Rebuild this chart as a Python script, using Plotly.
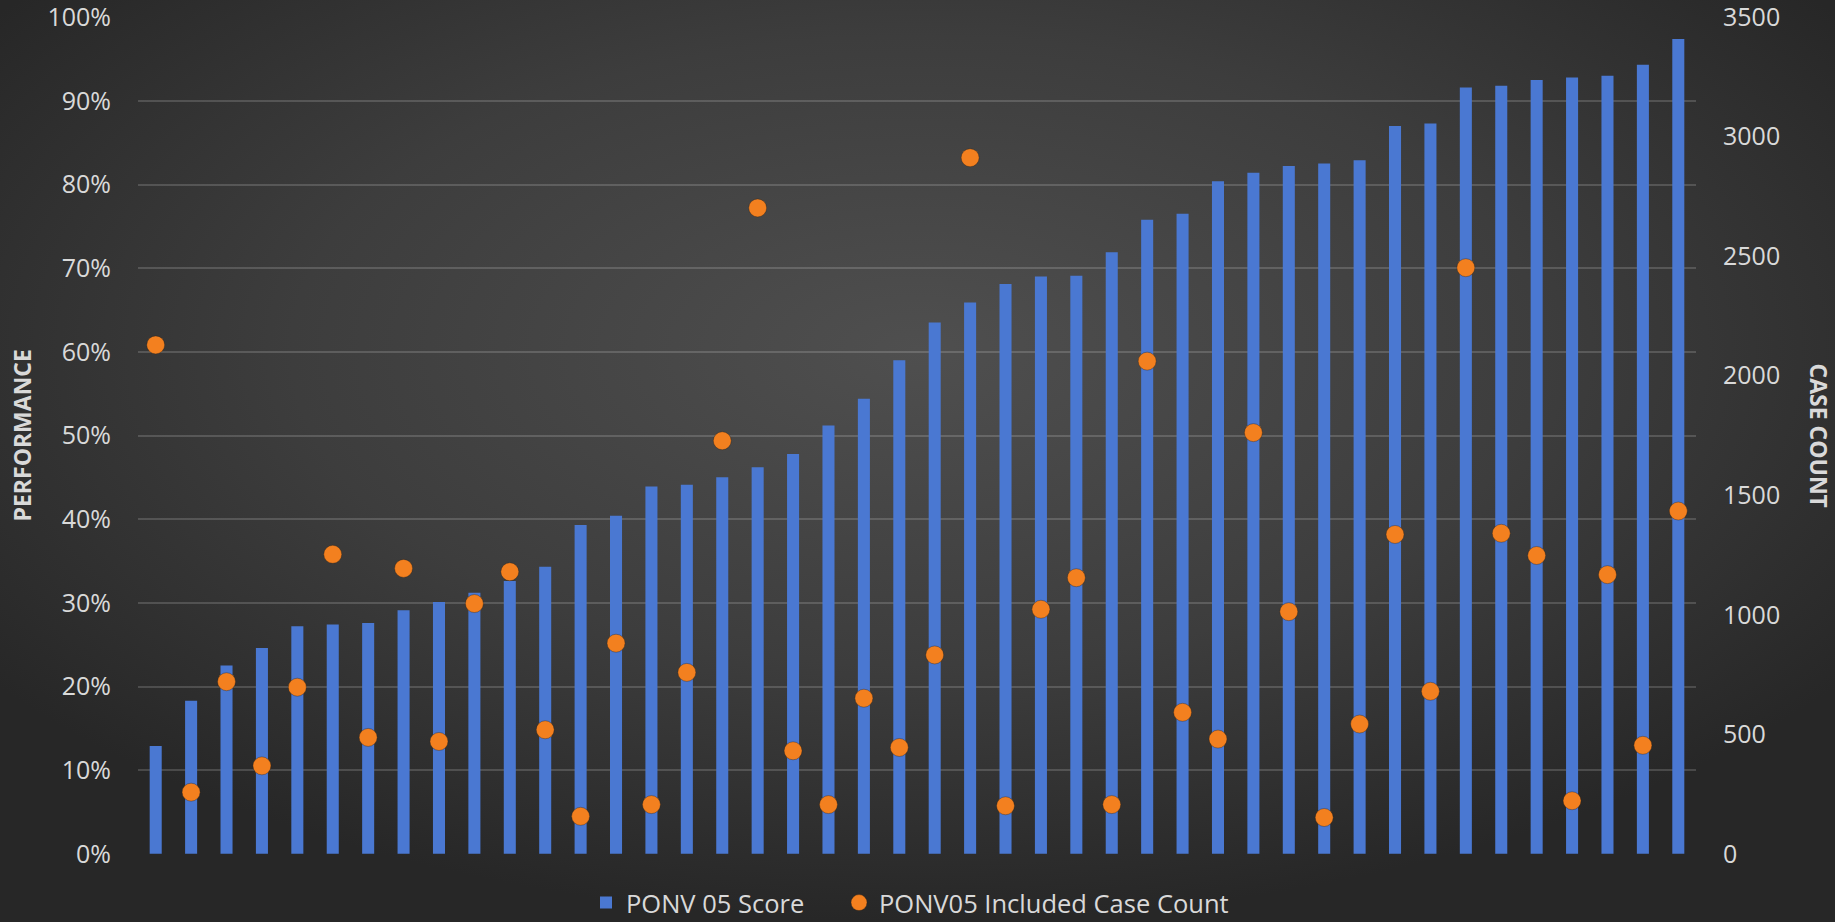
import plotly.graph_objects as go
import base64

units = [f"U{i}" for i in range(1, 45)]
ponv_score = [12.9, 18.3, 22.5, 24.6, 27.2, 27.4, 27.6, 29.1, 30.1, 31.2,
              32.6, 34.3, 39.3, 40.4, 43.9, 44.1, 45.0, 46.2, 47.8, 51.2,
              54.4, 59.0, 63.5, 65.9, 68.1, 69.0, 69.1, 71.9, 75.8, 76.5,
              80.4, 81.4, 82.2, 82.5, 82.9, 87.0, 87.3, 91.6, 91.8, 92.5,
              92.8, 93.0, 94.3, 97.4]
case_count = [2129, 258, 720, 368, 697, 1253, 487, 1194, 470, 1047,
              1180, 519, 157, 881, 206, 759, 1728, 2702, 431, 206,
              651, 445, 832, 2912, 201, 1023, 1155, 206, 2061, 592,
              480, 1762, 1013, 152, 543, 1336, 680, 2452, 1341, 1248,
              222, 1168, 454, 1434]
left_ticks = [0, 10, 20, 30, 40, 50, 60, 70, 80, 90, 100]
left_labels = [f"{v}%" for v in left_ticks]
right_ticks = [0, 500, 1000, 1500, 2000, 2500, 3000, 3500]

W, H = 1835, 922
ml, mr, mt, mb = 138, 139, 17, 68
pw, ph = W - ml - mr, H - mt - mb

svg = f'''<svg xmlns="http://www.w3.org/2000/svg" width="{W}" height="{H}" viewBox="0 0 {W} {H}" preserveAspectRatio="none">
<defs><radialGradient id="g" cx="0.5" cy="0.38" r="0.62" gradientUnits="objectBoundingBox">
<stop offset="0" stop-color="#4f4f4f"/><stop offset="0.55" stop-color="#3d3d3d"/><stop offset="1" stop-color="#272727"/>
</radialGradient></defs><rect width="{W}" height="{H}" fill="url(#g)"/></svg>'''
bg_src = "data:image/svg+xml;base64," + base64.b64encode(svg.encode()).decode()

txt = "#d9d9d9"
font = "Open Sans"
eps = 0.02
leg_y = (H - 903) / H

fig = go.Figure()
fig.add_trace(go.Bar(
    x=units, y=ponv_score, name="PONV 05 Score", legend="legend",
    marker=dict(color="#4a78d2", line=dict(width=0)),
))
fig.add_trace(go.Scatter(
    x=units, y=case_count, name="PONV05 Included Case Count", yaxis="y2",
    mode="markers", legend="legend2",
    marker=dict(color="#f3801f", size=18, line=dict(color="rgba(40,30,20,0.35)", width=1)),
))

leg_common = dict(orientation="h", xanchor="left", xref="container",
                  yref="container", y=leg_y, yanchor="middle",
                  font=dict(size=25.5, color=txt), bgcolor="rgba(0,0,0,0)",
                  itemwidth=30)

fig.update_layout(
    width=W, height=H,
    margin=dict(l=ml, r=mr, t=mt, b=mb, autoexpand=False),
    paper_bgcolor="#303030", plot_bgcolor="rgba(0,0,0,0)",
    bargap=0.66,
    font=dict(family=font, color=txt, size=25),
    showlegend=True,
    legend=dict(x=(629 - 43) / W, **leg_common),
    legend2=dict(x=(882 - 43) / W, **leg_common),
    xaxis=dict(showticklabels=False, showgrid=False, zeroline=False, ticks="",
               showline=False, range=[-0.5, 43.5]),
    yaxis=dict(range=[0 - eps, 100 + eps], tickvals=left_ticks, ticktext=left_labels,
               showgrid=True, gridcolor="rgba(255,255,255,0.16)", gridwidth=1.5,
               zeroline=False, showline=False, ticks="", ticklabelstandoff=26,
               automargin=False,
               ticklabeloverflow="allow", tickfont=dict(size=25, color=txt)),
    yaxis2=dict(range=[0 - eps * 35, 3500 + eps * 35], tickvals=right_ticks,
                overlaying="y", side="right",
                showgrid=False, zeroline=False, showline=False, ticks="",
                ticklabelstandoff=26, ticklabeloverflow="allow", automargin=False,
                tickfont=dict(size=25, color=txt)),
    images=[dict(source=bg_src, xref="paper", yref="paper",
                 x=-ml / pw, y=1 + mt / ph, sizex=W / pw, sizey=H / ph,
                 xanchor="left", yanchor="top", sizing="stretch", layer="below")],
    annotations=[
        dict(text="<b>PERFORMANCE</b>", xref="paper", yref="paper",
             x=-117 / pw, y=0.5, textangle=-90, showarrow=False,
             font=dict(size=23, color=txt, family=font), xanchor="center", yanchor="middle"),
        dict(text="<b>CASE COUNT</b>", xref="paper", yref="paper",
             x=1 + 123 / pw, y=0.5, textangle=90, showarrow=False,
             font=dict(size=23, color=txt, family=font), xanchor="center", yanchor="middle"),
    ],
)

fig.write_html("out.html")
